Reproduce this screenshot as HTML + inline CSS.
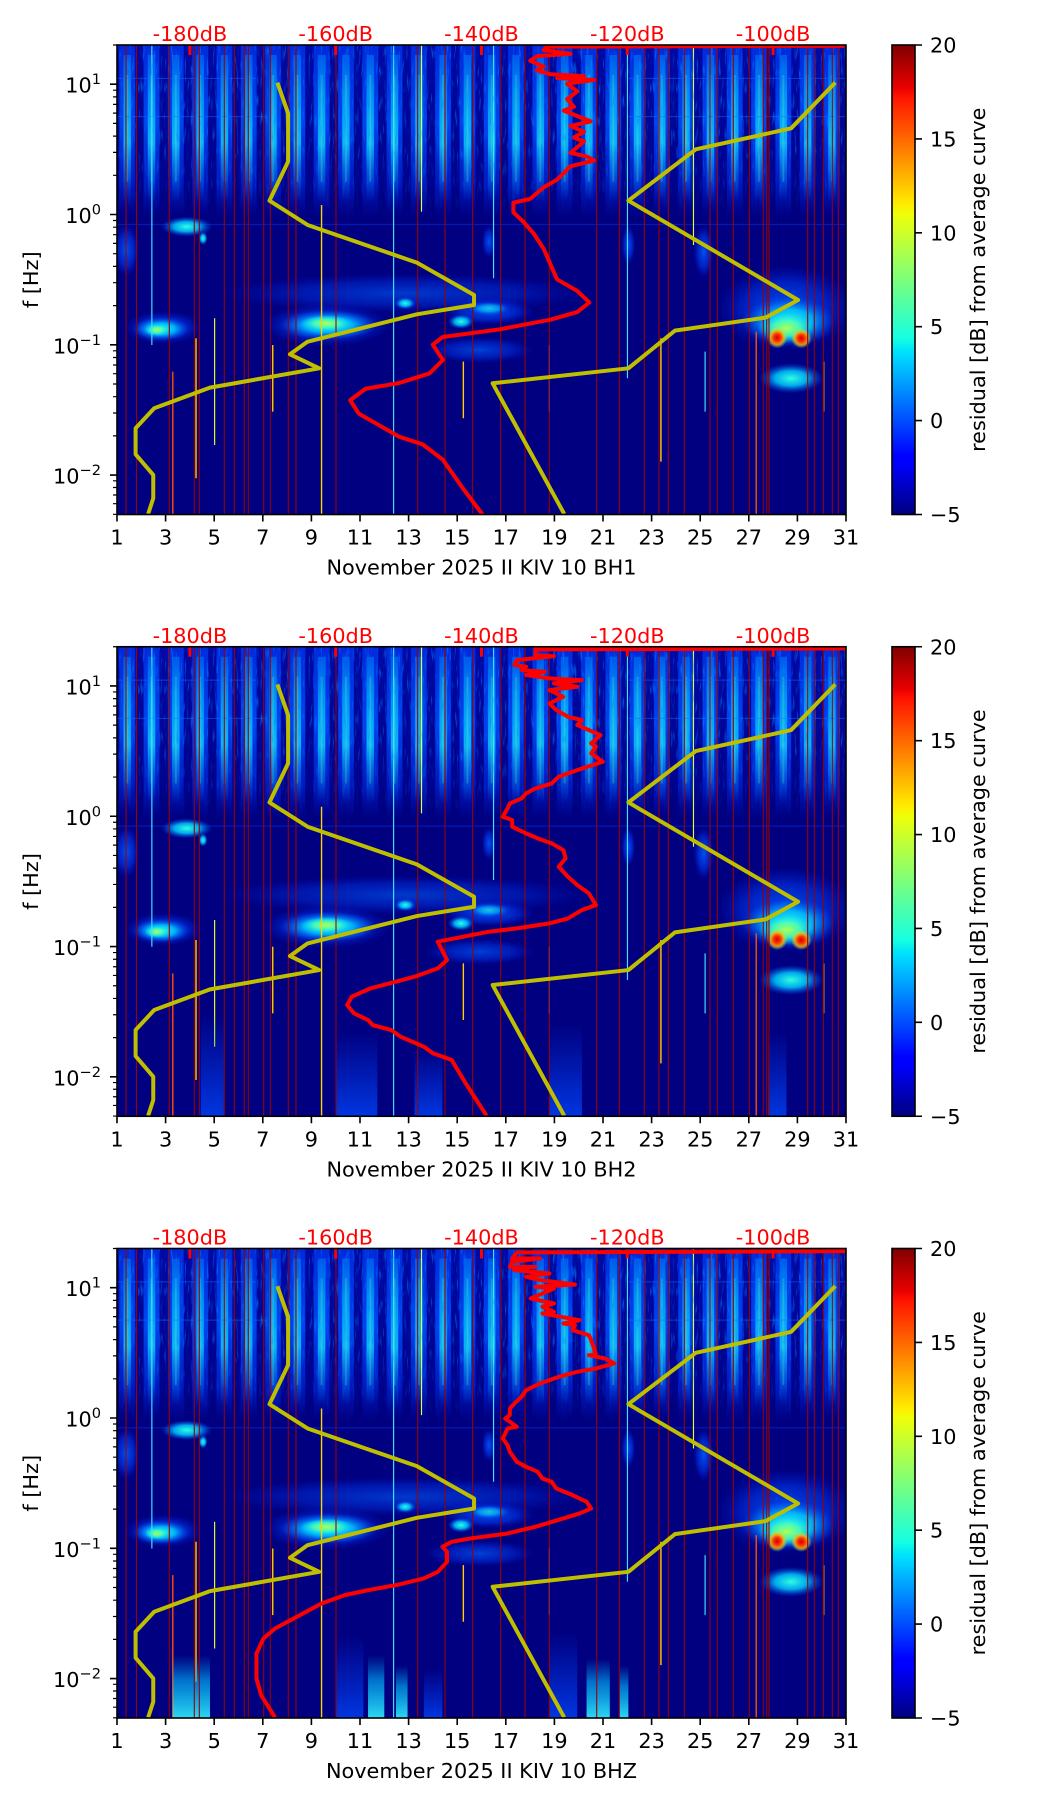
<!DOCTYPE html>
<html><head><meta charset="utf-8"><style>html,body{margin:0;padding:0;background:#fff}svg{display:block}</style></head>
<body>
<svg width="1052" height="1806" viewBox="0 0 1052 1806" xmlns="http://www.w3.org/2000/svg" font-family="'DejaVu Sans','Liberation Sans',sans-serif" font-size="20.8">
<defs>
<linearGradient id="jet" x1="0" y1="1" x2="0" y2="0">
<stop offset="0" stop-color="#000080"/><stop offset=".11" stop-color="#0000ff"/><stop offset=".125" stop-color="#0000ff"/><stop offset=".34" stop-color="#00dbff"/><stop offset=".35" stop-color="#00e5f7"/><stop offset=".375" stop-color="#15ffe2"/><stop offset=".64" stop-color="#efff08"/><stop offset=".66" stop-color="#ffec00"/><stop offset=".89" stop-color="#ff1300"/><stop offset=".91" stop-color="#e80000"/><stop offset="1" stop-color="#800000"/>
</linearGradient>
<linearGradient id="gOut" x1="0" y1="0" x2="0" y2="1"><stop offset="0" stop-color="#0040ff" stop-opacity=".6"/><stop offset=".45" stop-color="#0050ff" stop-opacity=".85"/><stop offset=".8" stop-color="#0030f0" stop-opacity=".5"/><stop offset="1" stop-color="#0020e0" stop-opacity="0"/></linearGradient>
<linearGradient id="gIn" x1="0" y1="0" x2="0" y2="1"><stop offset="0" stop-color="#00a8ff" stop-opacity=".35"/><stop offset=".25" stop-color="#00c8ff" stop-opacity=".6"/><stop offset=".6" stop-color="#10e0ff" stop-opacity=".75"/><stop offset=".85" stop-color="#00a0ff" stop-opacity=".35"/><stop offset="1" stop-color="#0080ff" stop-opacity="0"/></linearGradient>
<linearGradient id="gHaze" x1="0" y1="0" x2="0" y2="1"><stop offset="0" stop-color="#0018e0" stop-opacity=".4"/><stop offset=".8" stop-color="#0010c0" stop-opacity=".2"/><stop offset="1" stop-color="#000080" stop-opacity="0"/></linearGradient>
<linearGradient id="gSpk" x1="0" y1="0" x2="0" y2="1"><stop offset="0" stop-color="#fff" stop-opacity=".7"/><stop offset=".6" stop-color="#fff" stop-opacity=".5"/><stop offset="1" stop-color="#fff" stop-opacity="0"/></linearGradient>
<linearGradient id="gUpB" x1="0" y1="0" x2="0" y2="1"><stop offset="0" stop-color="#0040ff" stop-opacity="0"/><stop offset="1" stop-color="#0048ff" stop-opacity=".75"/></linearGradient>
<linearGradient id="gUpC" x1="0" y1="0" x2="0" y2="1"><stop offset="0" stop-color="#00a0ff" stop-opacity="0"/><stop offset=".4" stop-color="#00c0ff" stop-opacity=".6"/><stop offset="1" stop-color="#30f0ff" stop-opacity=".9"/></linearGradient>
<radialGradient id="rb"><stop offset="0" stop-color="#0060ff" stop-opacity=".85"/><stop offset=".6" stop-color="#0040ff" stop-opacity=".5"/><stop offset="1" stop-color="#0020e0" stop-opacity="0"/></radialGradient>
<radialGradient id="rc"><stop offset="0" stop-color="#30ffe0"/><stop offset=".5" stop-color="#00c8ff" stop-opacity=".85"/><stop offset="1" stop-color="#0050ff" stop-opacity="0"/></radialGradient>
<radialGradient id="rg"><stop offset="0" stop-color="#b0ff50"/><stop offset=".5" stop-color="#50ffb0" stop-opacity=".8"/><stop offset="1" stop-color="#00e0ff" stop-opacity="0"/></radialGradient>
<radialGradient id="rr"><stop offset="0" stop-color="#d00000"/><stop offset=".35" stop-color="#ff3000"/><stop offset=".65" stop-color="#ffb000" stop-opacity=".85"/><stop offset="1" stop-color="#a0ff60" stop-opacity="0"/></radialGradient>
<filter id="spk" x="0" y="0" width="100%" height="100%">
<feTurbulence type="fractalNoise" baseFrequency="0.5 0.06" numOctaves="2" seed="7" result="n"/>
<feColorMatrix in="n" type="matrix" values="0 0 0 0 0  0 0 0 0 0.2  0 0 0 0 1  0 0 0 4 -2.3" result="c"/>
<feComposite in="c" in2="SourceGraphic" operator="in"/>
</filter>
<pattern id="stp" patternUnits="userSpaceOnUse" x="0" y="0" width="52.27" height="1407">
<rect x="5" y="0" width="34" height="520" fill="url(#gOut)"/>
<rect x="14" y="30" width="16" height="440" fill="url(#gIn)"/>
<rect x="20" y="90" width="4" height="320" fill="#70ffb0" opacity=".25"/>
</pattern>
<clipPath id="clip"><rect x="0" y="0" width="729" height="469.5"/></clipPath>

<g id="specbg">
<rect width="729" height="469.5" fill="#000080"/>
<g transform="scale(0.4649,0.3333)">
<rect width="1568" height="520" fill="url(#gHaze)"/>
<rect width="1568" height="1407" fill="url(#stp)"/>
<path d="M0 100H300M1100 100H1568M0 215H320M1100 215H1568" stroke="#1070ff" stroke-width="3" opacity=".5"/>
<path d="M0 538H1568" stroke="#0040ff" stroke-width="3" opacity=".5"/>
<ellipse cx="620" cy="745" rx="400" ry="60" fill="url(#rb)" opacity=".7"/>
<ellipse cx="800" cy="800" rx="100" ry="40" fill="url(#rb)"/>
<ellipse cx="780" cy="915" rx="120" ry="40" fill="url(#rb)" opacity=".8"/>
<ellipse cx="100" cy="848" rx="85" ry="50" fill="url(#rb)"/>
<ellipse cx="95" cy="852" rx="60" ry="35" fill="url(#rc)"/>
<ellipse cx="85" cy="855" rx="25" ry="18" fill="url(#rg)"/>
<ellipse cx="450" cy="840" rx="140" ry="65" fill="url(#rb)"/>
<ellipse cx="455" cy="840" rx="105" ry="45" fill="url(#rc)"/>
<ellipse cx="450" cy="835" rx="55" ry="24" fill="url(#rg)"/>
<ellipse cx="620" cy="775" rx="22" ry="18" fill="url(#rc)"/>
<ellipse cx="740" cy="830" rx="28" ry="22" fill="url(#rc)"/>
<ellipse cx="800" cy="790" rx="45" ry="20" fill="url(#rc)" opacity=".7"/>
<ellipse cx="1440" cy="790" rx="150" ry="130" fill="url(#rb)"/>
<ellipse cx="1445" cy="830" rx="100" ry="75" fill="url(#rc)"/>
<ellipse cx="1440" cy="850" rx="60" ry="45" fill="url(#rg)"/>
<ellipse cx="1420" cy="878" rx="22" ry="32" fill="url(#rr)"/>
<ellipse cx="1472" cy="880" rx="22" ry="30" fill="url(#rr)"/>
<ellipse cx="1450" cy="1000" rx="70" ry="45" fill="url(#rc)"/>
<ellipse cx="150" cy="545" rx="55" ry="30" fill="url(#rc)"/>
<ellipse cx="185" cy="580" rx="10" ry="20" fill="url(#rc)"/>
<ellipse cx="20" cy="615" rx="28" ry="80" fill="url(#rb)"/>
<ellipse cx="1262" cy="620" rx="22" ry="80" fill="url(#rb)"/>
<ellipse cx="1100" cy="600" rx="15" ry="60" fill="url(#rb)"/>
<ellipse cx="800" cy="590" rx="15" ry="50" fill="url(#rb)"/>
<path stroke="#ffd000" stroke-width="3" d="M440 480V1407M170 880V1300M335 900V1100M745 950V1120M1170 880V1250M1520 950V1100"/>
<path stroke="#ff5000" stroke-width="3" d="M120 980V1407M1375 860V1407"/>
<path stroke="#40e0ff" stroke-width="2.5" d="M595 0V1407M810 0V700M75 0V900M930 900V1100M1265 920V1100M1098 0V1000"/>
<path stroke="#e0ff30" stroke-width="2.5" d="M210 820V1200M1240 0V600M655 0V500"/>
</g>
<rect x="0" y="0" width="729" height="170" fill="url(#gSpk)" filter="url(#spk)"/>
</g>

<g id="speclines">
<path stroke="#9a0000" stroke-width="1.1" fill="none" d="M9 0V469.5M19.5 0V469.5M52.3 0V469.5M77.3 0V469.5M82.3 0V469.5M107.3 0V469.5M117.3 0V469.5M127.3 0V469.5M131.3 0V469.5M146.7 0V469.5M153.3 0V469.5M171.3 0V469.5M179 0V469.5M219 0V469.5M300.7 0V469.5M328 0V469.5M355.6 0V469.5M383.7 0V469.5M408 0V469.5M432.3 0V469.5M479.7 0V469.5M502.3 0V469.5M527.3 0V469.5M542 0V469.5M551.3 0V469.5M567.3 0V469.5M593 0V469.5M600.3 0V469.5M616.3 0V469.5M632.3 0V469.5M646.3 0V469.5M649.7 0V469.5M652 0V469.5M690.7 0V469.5M697.3 0V469.5M706.3 0V469.5M715.3 0V469.5M721.3 0V469.5"/>
<g transform="scale(0.4649,0.3333)">
<polyline vector-effect="non-scaling-stroke" fill="none" stroke="#bfbf00" stroke-width="4" stroke-linejoin="round" points="345,113 368,205 368,350 328,467 410,540 645,653 768,750 768,780 645,808 410,890 372,928 435,970 200,1028 80,1090 40,1150 40,1228 78,1290 78,1360 67,1407"/>
<polyline vector-effect="non-scaling-stroke" fill="none" stroke="#bfbf00" stroke-width="4" stroke-linejoin="round" points="1545,113 1450,250 1245,313 1100,467 1465,765 1395,818 1200,857 1100,970 808,1015 962,1407"/>
</g>
</g>

<g id="frame" fill="none" stroke="#000">
<path stroke="#ff0000" stroke-width="3" d="M72.9 0v10M218.7 0v10M364.5 0v10M510.3 0v10M656.1 0v10"/>
<path stroke-width="1.6" d="M0 469.5v7M48.6 469.5v7M97.2 469.5v7M145.8 469.5v7M194.4 469.5v7M243 469.5v7M291.6 469.5v7M340.2 469.5v7M388.8 469.5v7M437.4 469.5v7M486 469.5v7M534.6 469.5v7M583.2 469.5v7M631.8 469.5v7M680.4 469.5v7M729 469.5v7"/>
<path stroke-width="1.6" d="M0 39.2h-7M0 169.5h-7M0 299.8h-7M0 430.1h-7"/>
<path stroke-width="1.2" d="M0 0h-4M0 45.2h-4M0 51.9h-4M0 59.4h-4M0 68.1h-4M0 78.4h-4M0 91.1h-4M0 107.4h-4M0 130.3h-4M0 175.5h-4M0 182.2h-4M0 189.7h-4M0 198.4h-4M0 208.7h-4M0 221.4h-4M0 237.7h-4M0 260.6h-4M0 305.8h-4M0 312.5h-4M0 320h-4M0 328.7h-4M0 339h-4M0 351.7h-4M0 368h-4M0 390.9h-4M0 435.8h-4M0 442.5h-4M0 450h-4M0 458.7h-4M0 469.3h-4"/>
<rect x="0" y="0" width="729" height="469.5" stroke-width="1.6"/>
<rect x="775" y="0" width="23" height="469.5" fill="url(#jet)" stroke-width="1.6"/>
<path stroke-width="1.6" d="M798 0h7M798 93.9h7M798 187.8h7M798 281.7h7M798 375.6h7M798 469.5h7"/>
</g>
</defs>

<!-- Plot 1 -->
<g transform="translate(117,45)">
<g clip-path="url(#clip)">
<use href="#specbg"/>
<use href="#speclines"/>
<polyline transform="matrix(0.6719,0,0,0.3836,-117.6,-45.6)" vector-effect="non-scaling-stroke" fill="none" stroke="#ff0000" stroke-width="4" stroke-linejoin="round" points="1258,121 815,123 810,132 850,142 800,148 790,160 810,175 800,185 820,195 870,200 830,205 885,210 845,220 860,240 845,260 855,280 840,290 880,318 850,330 870,345 855,360 870,370 860,385 850,400 875,410 885,420 850,435 830,470 810,490 790,520 765,530 765,555 780,580 795,610 810,650 820,690 830,730 860,760 878,790 860,815 820,835 745,860 660,880 645,900 660,940 640,975 595,1000 545,1015 522,1045 535,1080 565,1110 595,1140 630,1160 660,1200 690,1275 720,1345"/>
</g>
<use href="#frame"/>
<g fill="#000">
<text x="-16" y="47.7" text-anchor="end">10<tspan dy="-8.5" font-size="14.6">1</tspan></text>
<text x="-16" y="178" text-anchor="end">10<tspan dy="-8.5" font-size="14.6">0</tspan></text>
<text x="-16" y="308.3" text-anchor="end">10<tspan dy="-8.5" font-size="14.6">−1</tspan></text>
<text x="-16" y="438.6" text-anchor="end">10<tspan dy="-8.5" font-size="14.6">−2</tspan></text>
<g text-anchor="middle">
<text x="0" y="499.5">1</text><text x="48.6" y="499.5">3</text><text x="97.2" y="499.5">5</text><text x="145.8" y="499.5">7</text><text x="194.4" y="499.5">9</text><text x="243" y="499.5">11</text><text x="291.6" y="499.5">13</text><text x="340.2" y="499.5">15</text><text x="388.8" y="499.5">17</text><text x="437.4" y="499.5">19</text><text x="486" y="499.5">21</text><text x="534.6" y="499.5">23</text><text x="583.2" y="499.5">25</text><text x="631.8" y="499.5">27</text><text x="680.4" y="499.5">29</text><text x="729" y="499.5">31</text>
<text x="364.5" y="529.5">November 2025 II KIV 10 BH1</text>
<g fill="#ff0000"><text x="72.9" y="-4">-180dB</text><text x="218.7" y="-4">-160dB</text><text x="364.5" y="-4">-140dB</text><text x="510.3" y="-4">-120dB</text><text x="656.1" y="-4">-100dB</text></g>
<text transform="translate(-79,234.75) rotate(-90)">f [Hz]</text>
<text transform="translate(868,234.75) rotate(-90)">residual [dB] from average curve</text>
</g>
<text x="813" y="7.5">20</text><text x="813" y="101.4">15</text><text x="813" y="195.3">10</text><text x="813" y="289.2">5</text><text x="813" y="383.1">0</text><text x="813" y="477">−5</text>
</g>
</g>

<!-- Plot 2 -->
<g transform="translate(117,646.75)">
<g clip-path="url(#clip)">
<use href="#specbg"/>
<g transform="scale(0.4649,0.3333)" fill="url(#gUpB)">
<rect x="930" y="1130" width="70" height="277"/><rect x="470" y="1150" width="90" height="257"/><rect x="180" y="1100" width="50" height="307"/><rect x="640" y="1200" width="60" height="207"/><rect x="1400" y="1150" width="40" height="257"/>
</g>
<use href="#speclines"/>
<polyline transform="scale(0.4649,0.3333)" vector-effect="non-scaling-stroke" fill="none" stroke="#ff0000" stroke-width="4" stroke-linejoin="round" points="1568,5 900,8 900,25 940,28 860,40 855,55 880,60 870,70 920,75 880,85 930,95 1000,100 940,110 990,120 930,130 960,150 930,170 945,190 970,210 1000,220 990,235 1040,265 1020,290 1030,300 1020,320 1045,345 990,370 950,390 935,410 900,425 880,440 870,455 845,470 840,485 830,510 850,520 850,540 880,560 905,575 935,590 960,610 965,635 950,660 970,690 990,715 1015,740 1030,775 1000,790 970,815 930,830 860,845 800,855 745,870 690,885 710,940 690,965 640,990 600,1005 545,1025 505,1050 495,1075 510,1100 540,1120 550,1135 590,1150 610,1170 660,1200 680,1220 720,1240 750,1310 795,1407"/>
</g>
<use href="#frame"/>
<g fill="#000">
<text x="-16" y="47.7" text-anchor="end">10<tspan dy="-8.5" font-size="14.6">1</tspan></text>
<text x="-16" y="178" text-anchor="end">10<tspan dy="-8.5" font-size="14.6">0</tspan></text>
<text x="-16" y="308.3" text-anchor="end">10<tspan dy="-8.5" font-size="14.6">−1</tspan></text>
<text x="-16" y="438.6" text-anchor="end">10<tspan dy="-8.5" font-size="14.6">−2</tspan></text>
<g text-anchor="middle">
<text x="0" y="499.5">1</text><text x="48.6" y="499.5">3</text><text x="97.2" y="499.5">5</text><text x="145.8" y="499.5">7</text><text x="194.4" y="499.5">9</text><text x="243" y="499.5">11</text><text x="291.6" y="499.5">13</text><text x="340.2" y="499.5">15</text><text x="388.8" y="499.5">17</text><text x="437.4" y="499.5">19</text><text x="486" y="499.5">21</text><text x="534.6" y="499.5">23</text><text x="583.2" y="499.5">25</text><text x="631.8" y="499.5">27</text><text x="680.4" y="499.5">29</text><text x="729" y="499.5">31</text>
<text x="364.5" y="529.5">November 2025 II KIV 10 BH2</text>
<g fill="#ff0000"><text x="72.9" y="-4">-180dB</text><text x="218.7" y="-4">-160dB</text><text x="364.5" y="-4">-140dB</text><text x="510.3" y="-4">-120dB</text><text x="656.1" y="-4">-100dB</text></g>
<text transform="translate(-79,234.75) rotate(-90)">f [Hz]</text>
<text transform="translate(868,234.75) rotate(-90)">residual [dB] from average curve</text>
</g>
<text x="813" y="7.5">20</text><text x="813" y="101.4">15</text><text x="813" y="195.3">10</text><text x="813" y="289.2">5</text><text x="813" y="383.1">0</text><text x="813" y="477">−5</text>
</g>
</g>

<!-- Plot 3 -->
<g transform="translate(117,1248.5)">
<g clip-path="url(#clip)">
<use href="#specbg"/>
<g transform="scale(0.4649,0.3333)">
<rect x="930" y="1150" width="60" height="257" fill="url(#gUpB)"/><rect x="470" y="1160" width="60" height="247" fill="url(#gUpB)"/><rect x="660" y="1260" width="40" height="147" fill="url(#gUpB)"/>
<rect x="120" y="1220" width="80" height="187" fill="url(#gUpC)"/><rect x="540" y="1220" width="35" height="187" fill="url(#gUpC)"/><rect x="600" y="1250" width="25" height="157" fill="url(#gUpC)"/><rect x="1010" y="1230" width="50" height="177" fill="url(#gUpC)"/><rect x="1080" y="1250" width="20" height="157" fill="url(#gUpC)"/>
</g>
<use href="#speclines"/>
<polyline transform="scale(0.4649,0.3333)" vector-effect="non-scaling-stroke" fill="none" stroke="#ff0000" stroke-width="4" stroke-linejoin="round" points="1568,8 860,12 850,30 910,30 850,40 845,55 900,55 855,65 930,75 880,85 910,95 985,108 900,115 940,120 890,150 940,165 915,175 940,190 915,195 955,205 995,215 960,225 985,230 980,245 1015,260 1020,275 1025,295 1030,320 1015,320 1050,330 1070,345 1030,360 990,370 950,385 910,405 880,425 870,445 855,465 845,480 845,500 835,510 850,525 860,535 840,540 830,570 840,590 845,610 860,640 880,655 905,670 915,690 935,700 945,720 980,740 1010,760 1020,780 995,795 960,810 900,835 840,855 760,870 720,880 700,895 710,910 710,940 690,970 660,990 600,1010 540,1025 490,1040 440,1065 380,1110 340,1140 315,1170 300,1215 300,1290 310,1340 340,1407"/>
</g>
<use href="#frame"/>
<g fill="#000">
<text x="-16" y="47.7" text-anchor="end">10<tspan dy="-8.5" font-size="14.6">1</tspan></text>
<text x="-16" y="178" text-anchor="end">10<tspan dy="-8.5" font-size="14.6">0</tspan></text>
<text x="-16" y="308.3" text-anchor="end">10<tspan dy="-8.5" font-size="14.6">−1</tspan></text>
<text x="-16" y="438.6" text-anchor="end">10<tspan dy="-8.5" font-size="14.6">−2</tspan></text>
<g text-anchor="middle">
<text x="0" y="499.5">1</text><text x="48.6" y="499.5">3</text><text x="97.2" y="499.5">5</text><text x="145.8" y="499.5">7</text><text x="194.4" y="499.5">9</text><text x="243" y="499.5">11</text><text x="291.6" y="499.5">13</text><text x="340.2" y="499.5">15</text><text x="388.8" y="499.5">17</text><text x="437.4" y="499.5">19</text><text x="486" y="499.5">21</text><text x="534.6" y="499.5">23</text><text x="583.2" y="499.5">25</text><text x="631.8" y="499.5">27</text><text x="680.4" y="499.5">29</text><text x="729" y="499.5">31</text>
<text x="364.5" y="529.5">November 2025 II KIV 10 BHZ</text>
<g fill="#ff0000"><text x="72.9" y="-4">-180dB</text><text x="218.7" y="-4">-160dB</text><text x="364.5" y="-4">-140dB</text><text x="510.3" y="-4">-120dB</text><text x="656.1" y="-4">-100dB</text></g>
<text transform="translate(-79,234.75) rotate(-90)">f [Hz]</text>
<text transform="translate(868,234.75) rotate(-90)">residual [dB] from average curve</text>
</g>
<text x="813" y="7.5">20</text><text x="813" y="101.4">15</text><text x="813" y="195.3">10</text><text x="813" y="289.2">5</text><text x="813" y="383.1">0</text><text x="813" y="477">−5</text>
</g>
</g>
</svg>
</body></html>
